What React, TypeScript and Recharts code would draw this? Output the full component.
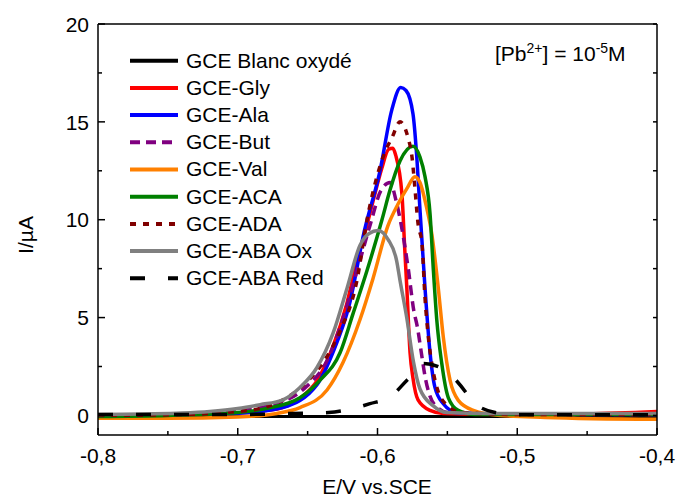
import React from 'react';
import { LineChart, Line, XAxis, YAxis, Legend } from 'recharts';

const FONT = '"Liberation Sans", Arial, sans-serif';
const FS = 21;

// E (V vs. SCE) , I (µA)
const blanc: [number, number][] = [[-0.8, -0.06], [-0.6, -0.06], [-0.4, -0.06]];
const gly: [number, number][] = [
  [-0.8, 0.0], [-0.75, 0.02], [-0.7, 0.12], [-0.68, 0.25], [-0.668, 0.4], [-0.655, 0.9], [-0.643, 1.8],
  [-0.632, 3.5], [-0.622, 5.7], [-0.615, 7.8], [-0.608, 9.6], [-0.603, 11.0], [-0.597, 12.6], [-0.592, 13.6],
  [-0.589, 13.65], [-0.587, 13.3], [-0.5825, 11.3], [-0.5805, 8.5], [-0.579, 6.5], [-0.5767, 3.2],
  [-0.5746, 1.9], [-0.571, 0.8], [-0.5624, 0.26], [-0.553, 0.1], [-0.5, 0.05], [-0.45, 0.08], [-0.4, 0.2],
];
const ala: [number, number][] = [
  [-0.8, 0.0], [-0.75, 0.02], [-0.71, 0.08], [-0.691, 0.15], [-0.668, 0.4], [-0.643, 1.6], [-0.632, 3.2],
  [-0.62, 5.7], [-0.6095, 9.4], [-0.5982, 12.5], [-0.5898, 15.6], [-0.5834, 16.75], [-0.5796, 16.6],
  [-0.5746, 15.4], [-0.5717, 13.0], [-0.5696, 10.5], [-0.566, 6.5], [-0.5624, 3.2], [-0.5589, 1.43],
  [-0.5531, 0.61], [-0.5431, 0.15], [-0.5, 0.05], [-0.4, 0.05],
];
const but: [number, number][] = [
  [-0.8, 0.0], [-0.75, 0.05], [-0.7, 0.25], [-0.668, 0.7], [-0.6504, 1.5], [-0.6361, 2.8], [-0.6268, 4.5],
  [-0.615, 7.3], [-0.605, 9.8], [-0.5975, 11.5], [-0.591, 11.9], [-0.5868, 11.0], [-0.5832, 9.8],
  [-0.578, 7.5], [-0.5739, 5.3], [-0.5717, 4.6], [-0.5682, 3.0], [-0.566, 2.0], [-0.5625, 1.0],
  [-0.557, 0.4], [-0.55, 0.15], [-0.5, 0.05], [-0.4, 0.05],
];
const val: [number, number][] = [
  [-0.8, -0.15], [-0.75, -0.15], [-0.7, -0.08], [-0.672, 0.1], [-0.6555, 0.4], [-0.6361, 1.3],
  [-0.6247, 2.7], [-0.6125, 4.9], [-0.6032, 7.0], [-0.5925, 9.7], [-0.5853, 10.8], [-0.5789, 11.6],
  [-0.5732, 12.2], [-0.5696, 11.9], [-0.5648, 10.6], [-0.5612, 9.3], [-0.5565, 6.5], [-0.5529, 4.0],
  [-0.5481, 1.8], [-0.5422, 0.77], [-0.5314, 0.26], [-0.5123, 0.0], [-0.48, -0.1], [-0.4, -0.2],
];
const aca: [number, number][] = [
  [-0.8, -0.05], [-0.75, 0.0], [-0.7, 0.15], [-0.679, 0.36], [-0.6555, 0.9], [-0.6411, 1.8], [-0.6268, 3.2],
  [-0.6175, 5.2], [-0.6075, 7.4], [-0.5968, 10.0], [-0.5911, 11.5], [-0.5839, 13.0], [-0.5746, 13.75],
  [-0.5696, 13.2], [-0.566, 12.2], [-0.5624, 10.3], [-0.56, 7.4], [-0.5576, 4.9], [-0.5541, 2.7],
  [-0.5493, 0.9], [-0.5422, 0.26], [-0.53, 0.05], [-0.4, 0.05],
];
const ada: [number, number][] = [
  [-0.8, 0.0], [-0.75, 0.03], [-0.7, 0.2], [-0.679, 0.45], [-0.6555, 1.4], [-0.639, 2.7], [-0.6268, 4.3],
  [-0.6147, 6.9], [-0.6075, 10.0], [-0.6, 12.3], [-0.595, 13.4], [-0.5896, 14.2], [-0.5839, 15.0],
  [-0.5782, 14.2], [-0.5753, 13.2], [-0.5732, 11.6], [-0.571, 9.8], [-0.5682, 8.8], [-0.566, 6.0],
  [-0.5639, 4.2], [-0.5603, 2.3], [-0.5574, 1.4], [-0.55, 0.5], [-0.54, 0.15], [-0.5, 0.05], [-0.4, 0.05],
];
const abaOx: [number, number][] = [
  [-0.8, 0.05], [-0.76, 0.08], [-0.74, 0.12], [-0.72, 0.2], [-0.7, 0.35], [-0.684, 0.55], [-0.6676, 0.8],
  [-0.6555, 1.43], [-0.6433, 2.45], [-0.6318, 4.2], [-0.6218, 6.5], [-0.6125, 8.7], [-0.606, 9.3],
  [-0.5996, 9.45], [-0.5925, 9.0], [-0.5863, 7.9], [-0.5839, 6.9], [-0.5791, 5.0], [-0.5743, 2.75],
  [-0.5696, 1.35], [-0.5603, 0.5], [-0.5505, 0.15], [-0.52, 0.1], [-0.4, 0.1],
];
const abaRed: [number, number][] = [
  [-0.8, 0.05], [-0.7, 0.05], [-0.66, 0.1], [-0.635, 0.15], [-0.6054, 0.6], [-0.59, 1.0], [-0.5789, 1.8],
  [-0.5746, 2.1], [-0.567, 2.65], [-0.5553, 2.45], [-0.5481, 2.1], [-0.536, 1.1], [-0.5317, 0.66],
  [-0.5123, 0.1], [-0.5, 0.03], [-0.4, 0.03],
];

const seriesNames = ['GCE Blanc oxydé', 'GCE-Gly', 'GCE-Ala', 'GCE-But', 'GCE-Val', 'GCE-ACA', 'GCE-ADA', 'GCE-ABA Ox', 'GCE-ABA Red'];
const seriesData = [blanc, gly, ala, but, val, aca, ada, abaOx, abaRed];
const seriesColors = ['#000000', '#ff0000', '#0000ff', '#800080', '#ff8000', '#008000', '#800000', '#808080', '#000000'];
const seriesDash = ['', '', '', '10 6', '', '', '6 7', '', '15 23'];

const xTicks = [-0.8, -0.75, -0.7, -0.65, -0.6, -0.55, -0.5, -0.45, -0.4];
const yTicks = [0, 2.5, 5, 7.5, 10, 12.5, 15, 17.5, 20];

const isMajorX = (v: number) => Math.abs(v * 10 - Math.round(v * 10)) < 1e-6;
const isMajorY = (v: number) => v % 5 === 0;
const fmtX = (v: number) => v.toFixed(1).replace('.', ',');

const BottomTick = (p: any) => {
  const v = p.payload.value;
  const major = isMajorX(v);
  return (
    <g>
      <line x1={p.x} x2={p.x} y1={p.y} y2={p.y - (major ? 7 : 4)} stroke="#000" strokeWidth={1.5} />
      {major && (
        <text x={p.x} y={p.y + 27.6} textAnchor="middle" fontFamily={FONT} fontSize={FS} fill="#000">
          {fmtX(v)}
        </text>
      )}
    </g>
  );
};

const TopTick = (p: any) => (
  <line x1={p.x} x2={p.x} y1={p.y} y2={p.y + 4} stroke="#000" strokeWidth={1.5} />
);

const LeftTick = (p: any) => {
  const v = p.payload.value;
  const major = isMajorY(v);
  return (
    <g>
      <line x1={p.x} x2={p.x + (major ? 7 : 4)} y1={p.y} y2={p.y} stroke="#000" strokeWidth={1.5} />
      {major && (
        <text x={p.x - 9} y={p.y + 7.7} textAnchor="end" fontFamily={FONT} fontSize={FS} fill="#000">
          {v}
        </text>
      )}
    </g>
  );
};

const RightTick = (p: any) => (
  <line x1={p.x} x2={p.x - 4} y1={p.y} y2={p.y} stroke="#000" strokeWidth={1.5} />
);

const renderLegend = () => (
  <svg width={400} height={300}>
    {seriesNames.map((name, i) => {
      const y = 60.7 + 27.2 * i;
      return (
        <g key={name}>
          <line x1={130} x2={178} y1={y} y2={y} stroke={seriesColors[i]} strokeWidth={4}
            strokeDasharray={seriesDash[i] || undefined} />
          <text x={186} y={y + 6.8} fontFamily={FONT} fontSize={FS} fill="#000">{name}</text>
        </g>
      );
    })}
  </svg>
);

export default function App() {
  return (
    <div style={{ position: 'absolute', left: 0, top: 0, width: 677, height: 499, background: '#fff' }}>
      <LineChart width={677} height={499} margin={{ top: 0, right: 0, bottom: 0, left: 38 }}>
        <XAxis dataKey="x" type="number" domain={[-0.8, -0.4]} ticks={xTicks} interval={0}
          allowDataOverflow height={64} tickSize={0} tickMargin={0} tickLine={false}
          axisLine={{ stroke: '#000', strokeWidth: 1.5 }} tick={BottomTick} />
        <XAxis xAxisId="top" orientation="top" type="number" domain={[-0.8, -0.4]} ticks={xTicks} interval={0}
          allowDataOverflow height={24} tickSize={0} tickMargin={0} tickLine={false}
          axisLine={{ stroke: '#000', strokeWidth: 1.5 }} tick={TopTick} />
        <YAxis type="number" domain={[-1, 20]} ticks={yTicks} interval={0} allowDataOverflow width={60}
          tickSize={0} tickMargin={0} tickLine={false} axisLine={{ stroke: '#000', strokeWidth: 1.5 }} tick={LeftTick} />
        <YAxis yAxisId="right" orientation="right" type="number" domain={[-1, 20]} ticks={yTicks} interval={0}
          allowDataOverflow width={20} tickSize={0} tickMargin={0} tickLine={false}
          axisLine={{ stroke: '#000', strokeWidth: 1.5 }} tick={RightTick} />
        <Legend layout="vertical" align="center" verticalAlign="middle" content={renderLegend}
          wrapperStyle={{ left: 0, top: 0, width: 400, height: 300 }} />
        {seriesData.map((d, i) => (
          <Line key={seriesNames[i]} name={seriesNames[i]} data={d.map(([x, y]) => ({ x, y }))} dataKey="y"
            type="monotone" stroke={seriesColors[i]} strokeWidth={i === 0 ? 3 : 3.5}
            strokeDasharray={seriesDash[i] || undefined} dot={false} activeDot={false} isAnimationActive={false} />
        ))}
      </LineChart>
      <svg width={677} height={499} style={{ position: 'absolute', left: 0, top: 0, pointerEvents: 'none' }}>
        <text x={495} y={60.7} fontFamily={FONT} fontSize={FS} fill="#000">
          [Pb<tspan dy={-8} fontSize={14}>2+</tspan><tspan dy={8}>] = 10</tspan>
          <tspan dy={-8} fontSize={14}>-5</tspan><tspan dy={8}>M</tspan>
        </text>
        <text x={25} y={235} transform="rotate(-90 25 235)" textAnchor="middle" dominantBaseline="central"
          fontFamily={FONT} fontSize={FS} fill="#000">I/µA</text>
        <text x={377} y={494} textAnchor="middle" fontFamily={FONT} fontSize={FS} fill="#000">E/V vs.SCE</text>
      </svg>
    </div>
  );
}
